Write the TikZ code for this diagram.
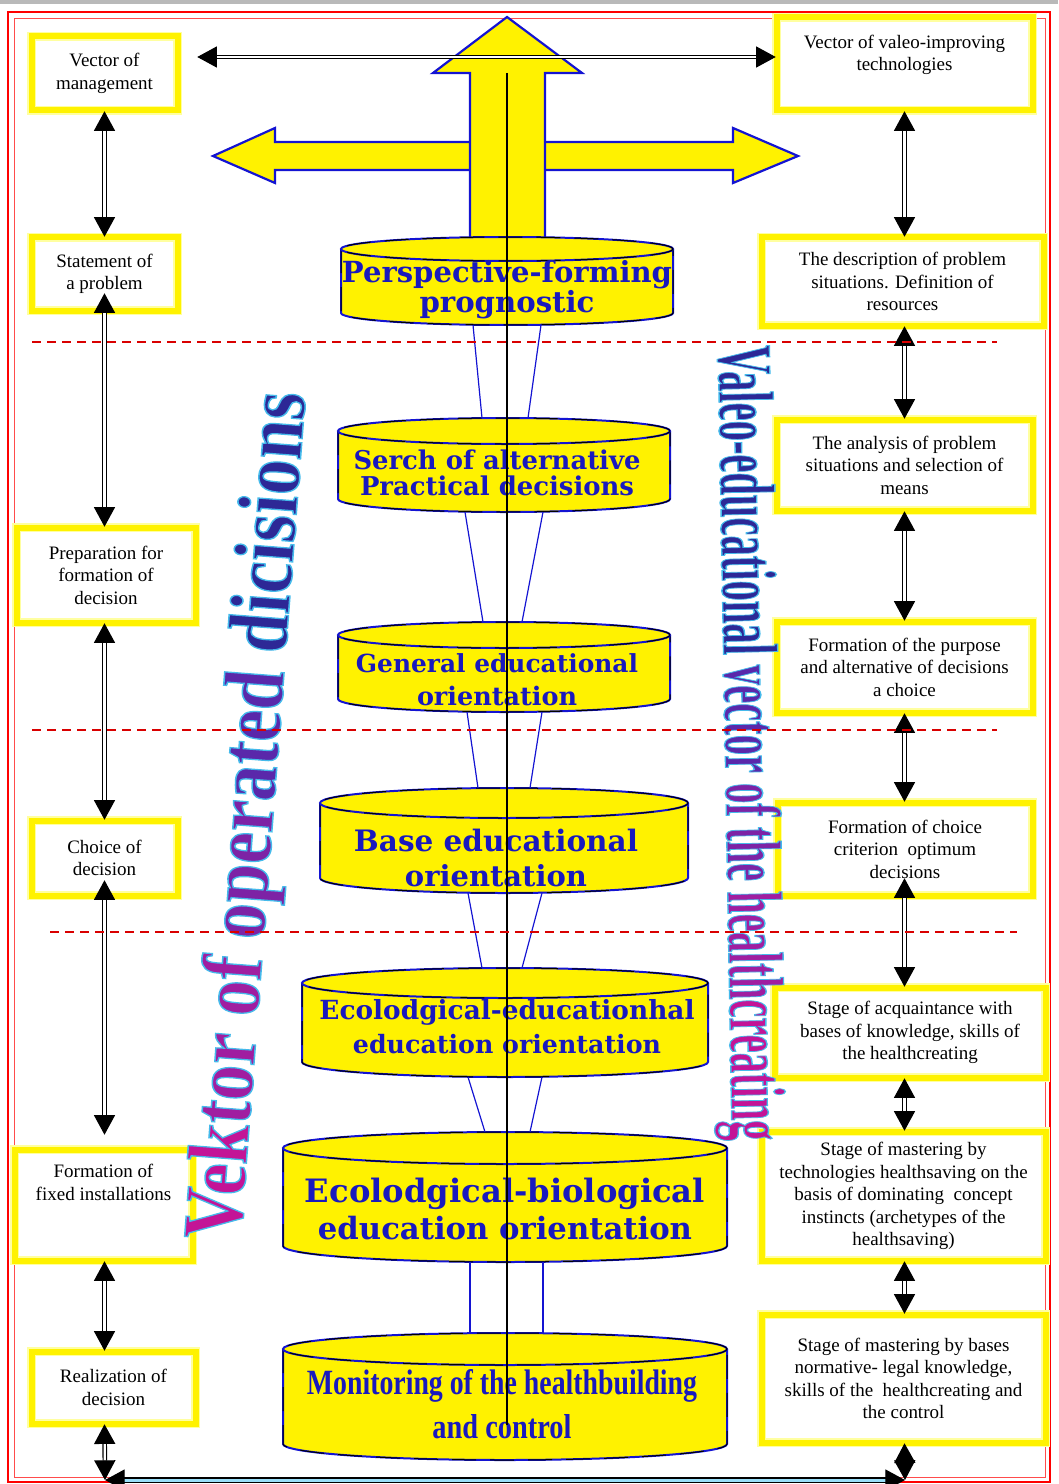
\documentclass[tikz,border=0pt]{standalone}
\usepackage{fontspec}
\setmainfont{Liberation Serif}
\newfontfamily\drumfont{DejaVu Serif}
\usepackage{graphicx}
\usetikzlibrary{positioning,arrows.meta,calc}
\newlength\px
\setlength\px{0.025cm}
\newcommand{\fit}[2]{\resizebox{#1\px}{!}{#2}}
\newcommand{\fitto}[3]{\resizebox{#1\px}{#2\px}{#3}}
% word art: coloured letters with a light blue rim
\newcommand{\artrim}{\special{pdf:literal direct 2 Tr 0.18 w 0.27 0.73 0.92 RG}}
\newcommand{\artoff}{\special{pdf:literal direct 0 Tr}}
\newcommand{\aw}[2]{\color{#1}\artrim#2}
\definecolor{paleyellow}{RGB}{255,255,160}
\definecolor{arrowblue}{RGB}{20,20,210}
\definecolor{drumblue}{RGB}{25,25,190}
\definecolor{artblue}{RGB}{45,40,150}
\definecolor{artviolet}{RGB}{90,40,170}
\definecolor{artpurple}{RGB}{125,35,165}
\definecolor{artpink}{RGB}{160,30,160}
\definecolor{artmagenta}{RGB}{195,20,150}
\tikzset{
  >={Triangle[length=14pt,width=15pt]},
  lbox/.style={draw=paleyellow,double=yellow,double distance=6\px,line width=1.5\px,
    fill=white,align=center,inner sep=2pt,font=\fontsize{13.5}{16}\selectfont},
  link/.style={<->,draw=black,double=white,double distance=2.2\px,line width=1.2\px},
  baselink/.style={link,double=cyan!40,double distance=3\px},
  bigarrow/.style={fill=yellow,draw=arrowblue,line width=2.2\px,line join=miter},
  drumline/.style={draw=arrowblue,line width=2\px,
    postaction={draw=black,line width=1\px,dash pattern=on 24\px off 14\px}},
  funnel/.style={draw=arrowblue,line width=1.2\px},
  drumtext/.style={text=drumblue,align=center,inner sep=0pt,
    font=\drumfont\bfseries\fontsize{6}{6}\selectfont},
  axis/.style={draw=black,line width=1.3\px},
  arttext/.style={inner sep=0pt,font=\bfseries},
  sepline/.style={draw=red!85!black,line width=1.6\px,dash pattern=on 9\px off 6\px},
}
% drum: name, x centre, top y, bottom y, x radius, y radius
\newcommand{\drum}[6]{%
  \fill[yellow] (#2,#4) ellipse[x radius=#5,y radius=#6];
  \fill[yellow] (#2-#5,#4) rectangle (#2+#5,#3);
  \draw[drumline] (#2-#5,#3) -- (#2-#5,#4)
    arc[start angle=180,end angle=360,x radius=#5,y radius=#6] -- (#2+#5,#3);
  \draw[drumline,fill=yellow] (#2,#3) ellipse[x radius=#5,y radius=#6];
  \coordinate (#1t) at (#2,#3+#6);
  \coordinate (#1b) at (#2,#4-#6);
}

\begin{document}
\begin{tikzpicture}[x=0.025cm,y=0.025cm]
  \useasboundingbox (0,0) rectangle (1058,-1484);
  % frame
  \fill[gray!55] (0,0) rectangle (1058,-4);
  \draw[red,line width=1.6\px] (8,-12) rectangle (1050,-1482);
  \draw[red!70,line width=0.8\px] (14,-18) rectangle (1045,-1477);

  % big yellow arrows
  \draw[bigarrow] (213,-156) -- (275,-128) -- (275,-142) -- (733,-142) -- (733,-128)
    -- (798,-156) -- (733,-183) -- (733,-170) -- (275,-170) -- (275,-183) -- cycle;
  \draw[bigarrow] (470,-240) -- (470,-73) -- (433,-73) -- (507,-17) -- (582,-73)
    -- (545,-73) -- (545,-240) -- cycle;

  % drums
  \drum{c1}{507}{-249}{-313}{166}{12}
  \drum{c2}{504}{-431}{-499}{166}{13}
  \drum{c3}{504}{-635}{-699}{166}{13}
  \drum{c4}{504}{-803}{-878}{184}{15}
  \drum{c5}{505}{-983}{-1062}{203}{15}
  \drum{c6}{505}{-1148}{-1246}{222}{16}
  \drum{c7}{505}{-1349}{-1444}{222}{16}

  \draw[funnel] ($(c1b)+(-34,0)$) -- ($(c2t)+(-22,0)$);
  \draw[funnel] ($(c1b)+(34,0)$) -- ($(c2t)+(24,0)$);
  \draw[funnel] ($(c2b)+(-39,0)$) -- ($(c3t)+(-21,0)$);
  \draw[funnel] ($(c2b)+(39,0)$) -- ($(c3t)+(18,0)$);
  \draw[funnel] ($(c3b)+(-37,0)$) -- ($(c4t)+(-26,0)$);
  \draw[funnel] ($(c3b)+(38,0)$) -- ($(c4t)+(26,0)$);
  \draw[funnel] ($(c4b)+(-36,0)$) -- ($(c5t)+(-23,0)$);
  \draw[funnel] ($(c4b)+(38,0)$) -- ($(c5t)+(17,0)$);
  \draw[funnel] ($(c5b)+(-37,0)$) -- ($(c6t)+(-20,0)$);
  \draw[funnel] ($(c5b)+(37,0)$) -- ($(c6t)+(25,0)$);
  \draw[funnel] ($(c6b)+(-35,0)$) -- ($(c7t)+(-35,0)$);
  \draw[funnel] ($(c6b)+(38,0)$) -- ($(c7t)+(38,0)$);

  \node[drumtext] (t1) at (507,-290) {\fit{330}{Perspective-forming}\\\fit{175}{prognostic}};
  \node[drumtext] (t2) at (497,-473) {\fit{287}{Serch of alternative}\\[3.5pt]\fit{274}{Practical decisions}};
  \node[drumtext] (t3) at (497,-680) {\fit{282}{General educational}\\[8.5pt]\fit{160}{orientation}};
  \node[drumtext] (t4) at (496,-858) {\fit{284}{Base educational}\\[7.5pt]\fit{182}{orientation}};
  \node[drumtext] (t5) at (507,-1027) {\fit{375}{Ecolodgical-educationhal}\\[5.5pt]\fit{308}{education orientation}};
  \node[drumtext] (t6) at (505,-1209) {\fit{400}{Ecolodgical-biological}\\[3pt]\fit{374}{education orientation}};
  \node[drumtext] (t7) at (502,-1404) {\fitto{390}{25}{\rmfamily\bfseries Monitoring of the healthbuilding}\\[8pt]
    \fitto{139}{24}{\rmfamily\bfseries and control}};

  \coordinate (axtop) at (507,-73);
  \coordinate (axbot) at (507,-1425);
  \draw[axis] (axtop) -- (axbot);

  % left column
  \node[lbox,minimum width=146\px,minimum height=74\px] (l1) at (104.5,-73.5) {Vector of\\management};
  \node[lbox,minimum width=146\px,minimum height=73\px] (l2) at (104.5,-274) {Statement of\\a problem};
  \node[lbox,minimum width=179\px,minimum height=95\px] (l3) at (106,-575) {Preparation for\\formation of\\decision};
  \node[lbox,minimum width=146\px,minimum height=75\px] (l4) at (104.5,-858) {Choice of\\decision};
  \node[lbox,minimum width=178\px,minimum height=111\px] (l5) at (103.5,-1205) {Formation of\\fixed installations\\~\\~};
  \node[lbox,minimum width=164\px,minimum height=72\px] (l6) at (113.5,-1387.5) {Realization of\\decision};

  % right column
  \node[lbox,minimum width=256\px,minimum height=93\px] (r1) at (904.5,-64) {Vector of valeo-improving\\technologies\\~};
  \node[lbox,minimum width=282\px,minimum height=88\px] (r2) at (902.5,-281.5) {The description of problem\\situations. Definition of\\resources};
  \node[lbox,minimum width=256\px,minimum height=91\px] (r3) at (904.5,-465) {The analysis of problem\\situations and selection of\\means};
  \node[lbox,minimum width=256\px,minimum height=91\px] (r4) at (904.5,-667) {Formation of the purpose\\and alternative of decisions\\a choice};
  \node[lbox,minimum width=255\px,minimum height=93\px] (r5) at (905,-849) {Formation of choice\\criterion~ optimum\\decisions};
  \node[lbox,minimum width=271\px,minimum height=90\px] (r6) at (910,-1032.5) {Stage of acquaintance with\\bases of knowledge, skills of\\the healthcreating};
  \node[lbox,minimum width=284\px,minimum height=129\px] (r7) at (903.5,-1196) {Stage of mastering by\\technologies healthsaving on the\\basis of dominating~ concept\\instincts (archetypes of the\\healthsaving)};
  \node[lbox,minimum width=284\px,minimum height=128\px] (r8) at (903.5,-1378.5) {Stage of mastering by bases\\normative- legal knowledge,\\skills of the~ healthcreating and\\the control};

  % links
  \coordinate (toprow) at (0,-57);
  \coordinate (bl) at (105,-1480);
  \coordinate (br) at (905,-1480);
  \draw[link,shorten <=19\px] (l1.east |- toprow) -- (r1.west |- toprow);
  \draw[link] (l1.south) -- (l2.north -| l1);
  \draw[link] ($(l2.south -| l1)+(0,18)$) -- (l3.north -| l1);
  \draw[link] (l3.south -| l1) -- (l4.north -| l1);
  \draw[link] ($(l4.south -| l1)+(0,16)$) -- ($(l5.north -| l1)+(0,14)$);
  \draw[link] (l5.south -| l1) -- (l6.north -| l1);
  \draw[link] (l6.south -| l1) -- (bl);
  \draw[link] (r1.south) -- (r2.north -| r1);
  \draw[link] (r2.south -| r1) -- (r3.north -| r1);
  \draw[link] (r3.south -| r1) -- (r4.north -| r1);
  \draw[link] (r4.south -| r1) -- (r5.north -| r1);
  \draw[link] ($(r5.south -| r1)+(0,18)$) -- (r6.north -| r1);
  \draw[link] (r6.south -| r1) -- (r7.north -| r1);
  \draw[link] (r7.south -| r1) -- (r8.north -| r1);
  \draw[link] (r8.south -| r1) -- (br);
  \draw[baselink] (bl) -- (br);

  % word art
  \node[arttext,rotate=85.6] (vecL) at (252,-816)
    {\fitto{850}{60}{\aw{artmagenta}{Vek}\aw{artpink}{tor of }\aw{artpurple}{oper}\aw{artviolet}{ated }\aw{artblue}{dicisions}\artoff}};
  \node[arttext,rotate=-89] (vecR) at (744,-743)
    {\fitto{795}{55}{\aw{artblue}{Valeo-educational }\aw{artviolet}{vector }\aw{artpurple}{of the }\aw{artpink}{health}\aw{artmagenta}{creating}\artoff}};

  % separators
  \draw[sepline] (32,-342) -- (997,-342);
  \draw[sepline] (32,-730) -- (997,-730);
  \draw[sepline] (50,-932) -- (1017,-932);
\end{tikzpicture}
\end{document}
